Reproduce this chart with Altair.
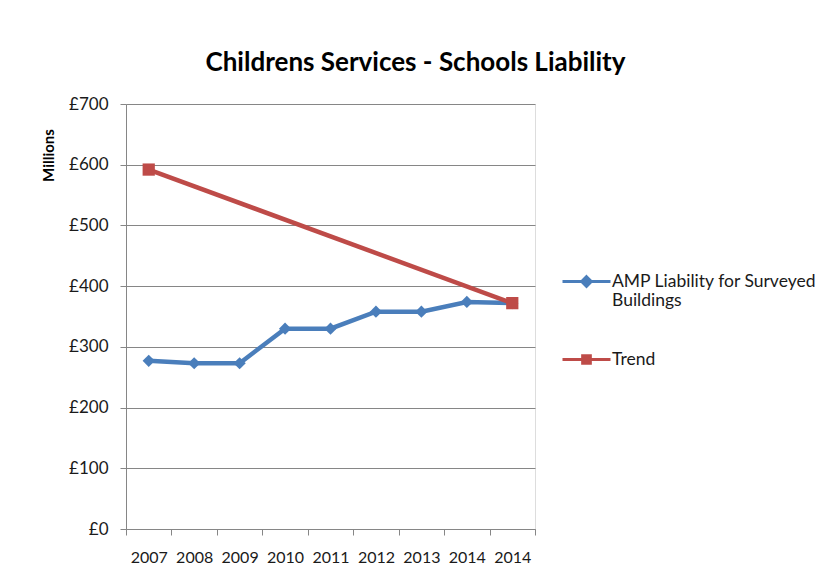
import altair as alt
import pandas as pd

title_text = "Childrens Services - Schools Liability"
year_labels = ["2007", "2008", "2009", "2010", "2011", "2012", "2013", "2014", "2014"]
amp_values = [277, 273, 273, 330, 330, 358, 358, 374, 372]
trend_values = [592, None, None, None, None, None, None, None, 372]
series_names = ["AMP Liability for Surveyed Buildings", "Trend"]
legend_lines = [["AMP Liability for Surveyed", "Buildings"], ["Trend"]]
series_colors = ["#4A7EBB", "#BE4B48"]
series_shapes = ["diamond", "square"]
y_ticks = [0, 100, 200, 300, 400, 500, 600, 700]

rows = []
for i, (lab, a, t) in enumerate(zip(year_labels, amp_values, trend_values)):
    rows.append({"slot": i, "year": lab, "series": series_names[0], "value": a})
    if t is not None:
        rows.append({"slot": i, "year": lab, "series": series_names[1], "value": t})
df = pd.DataFrame(rows)

FONT = "Lato"
GRID = "#868686"
TEXT = "#1a1a1a"

label_expr = "[" + ",".join("'%s'" % y for y in year_labels) + "][datum.value]"
legend_label_expr = " : ".join(
    "datum.label == '%s' ? [%s]" % (n, ",".join("'%s'" % s for s in ls))
    for n, ls in zip(series_names, legend_lines)
) + " : datum.label"

# legend symbols: a short line with the marker in the middle
legend_paths = [
    "M-1,0H1M0,-0.2L0.2,0L0,0.2L-0.2,0Z",
    "M-1,0H1M-0.16,-0.16H0.16V0.16H-0.16Z",
]

x_enc = alt.X(
    "slot:O",
    scale=alt.Scale(type="band", paddingInner=0, paddingOuter=0),
    axis=alt.Axis(
        title=None, labelExpr=label_expr, labelAngle=0, tickBand="extent",
        grid=False, domainColor=GRID, tickColor=GRID, tickSize=6,
        labelFont=FONT, labelFontSize=16, labelColor=TEXT, labelPadding=14,
    ),
)
y_enc = alt.Y(
    "value:Q",
    scale=alt.Scale(domain=[0, 700], nice=False),
    axis=alt.Axis(
        values=y_ticks, labelExpr="'£' + datum.value", grid=True, gridColor=GRID,
        domainColor=GRID, tickColor=GRID, tickSize=6, labelFont=FONT,
        labelFontSize=17, labelColor=TEXT, labelPadding=12,
        title="Millions", titleFont=FONT, titleFontSize=15, titleFontWeight="bold",
        titleColor="#000000", titleAngle=-90, titleAlign="center",
        titleBaseline="middle", titleX=-78, titleY=51,
    ),
)

color_scale = alt.Scale(domain=series_names, range=series_colors)
base = alt.Chart(df)

line = base.mark_line(strokeWidth=4.5).encode(
    x=x_enc, y=y_enc, color=alt.Color("series:N", scale=color_scale, legend=None)
)
points = base.mark_point(filled=True, size=150, opacity=1).encode(
    x=x_enc, y=y_enc,
    color=alt.Color("series:N", scale=color_scale, legend=None),
    shape=alt.Shape("series:N", scale=alt.Scale(domain=series_names, range=series_shapes), legend=None),
)

leg = alt.Legend(
    title=None, orient="none", legendX=435, legendY=152, labelExpr=legend_label_expr,
    labelFont=FONT, labelFontSize=17.5, labelColor=TEXT, labelOffset=0,
    symbolSize=2304, symbolStrokeWidth=3, rowPadding=24, padding=0,
    labelLimit=400,
)
legend_layer = base.transform_filter("false").mark_point(
    filled=True, size=2304, strokeWidth=3, opacity=1
).encode(
    x=x_enc, y=y_enc,
    color=alt.Color("series:N", scale=color_scale, legend=leg),
    stroke=alt.Stroke("series:N", scale=color_scale, legend=leg),
    shape=alt.Shape("series:N", scale=alt.Scale(domain=series_names, range=legend_paths), legend=leg),
)

chart = (
    alt.layer(line, points, legend_layer)
    .resolve_scale(color="independent", shape="independent", stroke="independent")
    .properties(
        width=409, height=425,
        autosize=alt.AutoSizeParams(type="none"),
        padding={"left": 118, "top": 96, "right": 290, "bottom": 40},
        title=alt.Title(
            title_text, font=FONT, fontSize=26, fontWeight="bold", color="#000000",
            anchor="middle", frame="group", dx=85, offset=19,
        ),
    )
    .configure_view(stroke=None)
    .configure(background="white")
)

chart.save("out.html", embed_options={"renderer": "svg", "actions": False})
